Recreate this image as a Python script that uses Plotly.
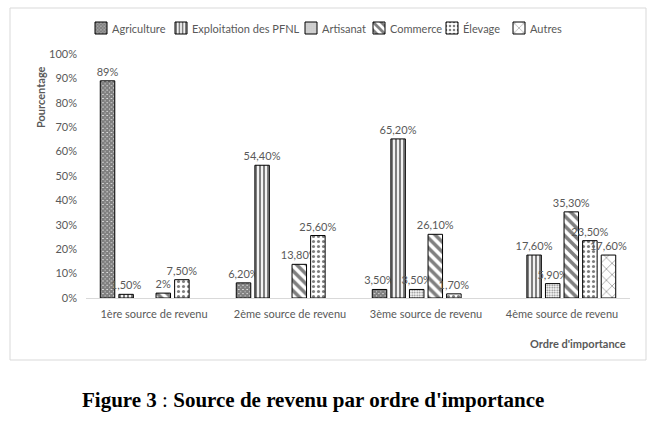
import plotly.graph_objects as go

categories = ["1ère source de revenu", "2ème source de revenu", "3ème source de revenu", "4ème source de revenu"]
series_names = ["Agriculture", "Exploitation des PFNL", "Artisanat", "Commerce", "Élevage", "Autres"]
agriculture = [89, 6.2, 3.5, None]
pfnl = [1.5, 54.4, 65.2, 17.6]
artisanat = [None, None, 3.5, 5.9]
commerce = [2, 13.8, 26.1, 35.3]
elevage = [7.5, 25.6, 1.7, 23.5]
autres = [None, None, None, 17.6]
y_ticks = list(range(0, 101, 10))
y_tick_labels = ["%d%%" % t for t in y_ticks]

series_values = [agriculture, pfnl, artisanat, commerce, elevage, autres]
patterns = [
    dict(shape="x", size=3, solidity=0.9),
    dict(shape="|", size=4, solidity=0.55),
    dict(shape=".", size=2.5, solidity=0.4),
    dict(shape="\\", size=7, solidity=0.5),
    dict(shape=".", size=5, solidity=0.3),
    dict(shape="x", size=8, solidity=0.15),
]

def fmt(v):
    if v is None:
        return ""
    if float(v).is_integer():
        return "%d%%" % int(v)
    return ("%.2f" % v).replace(".", ",") + "%"

GRAY = "#595959"
FONT = "Lato"

W, H = 656, 422
L, R, T, B = 86, 630, 54, 298
pw, ph = R - L, B - T
def px(x):
    return (x - L) / pw
def py(y):
    return (B - y) / ph

legend_text_x = [110, 190, 320, 388, 461, 528]
legend_ids = ["legend", "legend2", "legend3", "legend4", "legend5", "legend6"]

def marker_for(pat):
    return dict(color="white", line=dict(color="black", width=1),
                pattern=dict(fgcolor="black", bgcolor="white", fillmode="overlay", **pat))

fig = go.Figure()
for i, (name, vals, pat) in enumerate(zip(series_names, series_values, patterns)):
    fig.add_trace(go.Bar(
        name=name, x=categories, y=vals, showlegend=False, offsetgroup=str(i),
        text=[fmt(v) for v in vals], textposition="outside",
        constraintext="none", cliponaxis=False,
        textfont=dict(family=FONT, size=11, color=GRAY),
        marker=marker_for(pat),
    ))

# legend keys (one legend per series so each key sits at its own place)
legends = {}
annotations = []
for i, (name, pat, lid, tx) in enumerate(zip(series_names, patterns, legend_ids, legend_text_x)):
    fig.add_trace(go.Bar(name="", x=[None], y=[None], legend=lid, showlegend=True,
                         offsetgroup=str(i), marker=marker_for(pat), hoverinfo="skip"))
    legends[lid] = dict(orientation="h", x=px(tx - 29), xanchor="left", y=py(28), yanchor="middle",
                        font=dict(family=FONT, size=11, color=GRAY), itemwidth=30,
                        bgcolor="rgba(0,0,0,0)", borderwidth=0)
    annotations.append(dict(text=name, xref="paper", yref="paper", x=px(tx), y=py(28),
                            xanchor="left", yanchor="middle", showarrow=False,
                            font=dict(family=FONT, size=11, color=GRAY)))

annotations += [
    dict(text="<b>Pourcentage</b>", xref="paper", yref="paper", x=px(40), y=py(97),
         textangle=-90, showarrow=False, font=dict(family=FONT, size=11, color=GRAY),
         xanchor="center", yanchor="middle"),
    dict(text="<b>Ordre d'importance</b>", xref="paper", yref="paper", x=px(628), y=py(343),
         showarrow=False, font=dict(family=FONT, size=11, color=GRAY),
         xanchor="right", yanchor="middle"),
    dict(text="<b>Figure 3</b> : <b>Source de revenu par ordre d'importance</b>",
         xref="paper", yref="paper", x=px(313), y=py(400), showarrow=False,
         font=dict(family="Liberation Serif", size=21, color="black"),
         xanchor="center", yanchor="middle"),
]

fig.update_layout(
    width=W, height=H,
    margin=dict(l=L, r=W - R, t=T, b=H - B),
    paper_bgcolor="white", plot_bgcolor="white",
    barmode="group", bargap=0.18, bargroupgap=0.22,
    font=dict(family=FONT, size=11, color=GRAY),
    showlegend=True,
    xaxis=dict(showline=True, linecolor="#d9d9d9", linewidth=1, ticks="",
               ticklabelstandoff=6,
               tickfont=dict(family=FONT, size=11, color=GRAY), showgrid=False),
    yaxis=dict(range=[0, 100], tickvals=y_ticks, ticktext=y_tick_labels, showgrid=False,
               showline=False, zeroline=False, ticks="", ticklabelstandoff=8,
               tickfont=dict(family=FONT, size=11, color=GRAY)),
    shapes=[dict(type="rect", xref="paper", yref="paper",
                 x0=px(10), x1=px(646), y0=py(360), y1=py(8),
                 line=dict(color="#d9d9d9", width=1), fillcolor="rgba(0,0,0,0)", layer="below")],
    annotations=annotations,
    **legends,
)

fig.write_html("out.html")
